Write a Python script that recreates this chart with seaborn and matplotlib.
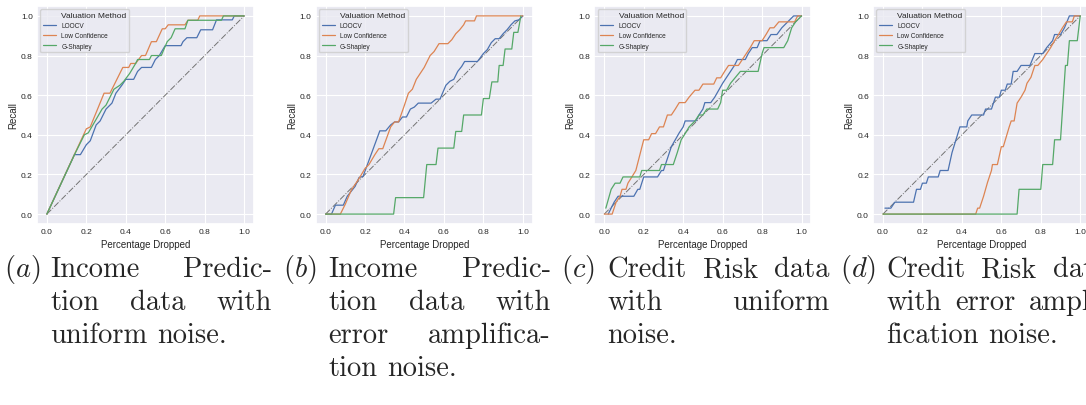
import matplotlib
matplotlib.use("Agg")
import numpy as np
import pandas as pd
import seaborn as sns
import matplotlib.pyplot as plt
from matplotlib.lines import Line2D

# ---------------- data ----------------
METHODS = ["LOOCV", "Low Confidence", "G-Shapley"]
LEGEND_TITLE = "Valuation Method"
X_LABEL = "Percentage Dropped"
Y_LABEL = "Recall"
TICKS = [0.0, 0.2, 0.4, 0.6, 0.8, 1.0]
TICK_LABELS = ["0.0", "0.2", "0.4", "0.6", "0.8", "1.0"]
DIAG_X = [0.0, 1.0]
DIAG_Y = [0.0, 1.0]

# (a) Income prediction, uniform noise
a_loocv_x = [0, 0.14, 0.17, 0.2, 0.22, 0.25, 0.27, 0.3, 0.33, 0.35, 0.38, 0.4, 0.44, 0.46, 0.48, 0.53, 0.55, 0.57,
             0.6, 0.68, 0.69, 0.71, 0.76, 0.78, 0.84, 0.86, 0.94, 0.95, 1.0]
a_loocv_y = [0, 0.30, 0.30, 0.35, 0.37, 0.45, 0.47, 0.53, 0.56, 0.61, 0.65, 0.68, 0.68, 0.72, 0.74, 0.74, 0.78, 0.80,
             0.85, 0.85, 0.87, 0.89, 0.89, 0.93, 0.93, 0.98, 0.98, 1.0, 1.0]
a_lowconf_x = [0, 0.13, 0.2, 0.22, 0.29, 0.32, 0.385, 0.415, 0.425, 0.45, 0.48, 0.5, 0.53, 0.555, 0.585, 0.60, 0.615,
               0.70, 0.715, 0.765, 0.775, 1.0]
a_lowconf_y = [0, 0.28, 0.43, 0.44, 0.61, 0.61, 0.74, 0.74, 0.76, 0.76, 0.80, 0.80, 0.87, 0.87, 0.935, 0.935, 0.955,
               0.955, 0.978, 0.978, 1.0, 1.0]
a_gshap_x = [0, 0.14, 0.19, 0.21, 0.28, 0.30, 0.34, 0.37, 0.39, 0.42, 0.45, 0.46, 0.52, 0.53, 0.58, 0.61, 0.63, 0.65,
             0.70, 0.715, 0.885, 0.895, 1.0]
a_gshap_y = [0, 0.30, 0.40, 0.41, 0.53, 0.55, 0.63, 0.65, 0.67, 0.71, 0.76, 0.78, 0.78, 0.80, 0.80, 0.87, 0.89, 0.935,
             0.935, 0.978, 0.978, 1.0, 1.0]

# (b) Income prediction, error amplification noise
b_loocv_x = [0, 0.03, 0.05, 0.09, 0.11, 0.15, 0.17, 0.19, 0.275, 0.305, 0.33, 0.35, 0.37, 0.39, 0.41, 0.43, 0.45, 0.47,
             0.535, 0.56, 0.58, 0.61, 0.63, 0.65, 0.67, 0.69, 0.705, 0.77, 0.80, 0.82, 0.84, 0.86, 0.88, 0.90, 0.92,
             0.94, 0.96, 0.98, 1.0]
b_loocv_y = [0, 0, 0.045, 0.045, 0.09, 0.14, 0.185, 0.19, 0.42, 0.42, 0.45, 0.465, 0.465, 0.49, 0.49, 0.53, 0.54, 0.56,
             0.56, 0.58, 0.58, 0.65, 0.67, 0.68, 0.72, 0.745, 0.77, 0.77, 0.81, 0.83, 0.865, 0.885, 0.885, 0.91, 0.93,
             0.955, 0.975, 0.98, 1.0]
b_lowconf_x = [0, 0.075, 0.10, 0.13, 0.17, 0.20, 0.22, 0.25, 0.27, 0.29, 0.33, 0.35, 0.37, 0.40, 0.42, 0.44, 0.46,
               0.50, 0.53, 0.55, 0.575, 0.62, 0.64, 0.66, 0.68, 0.70, 0.71, 0.755, 0.765, 1.0]
b_lowconf_y = [0, 0, 0.05, 0.12, 0.18, 0.23, 0.25, 0.30, 0.33, 0.33, 0.44, 0.465, 0.465, 0.55, 0.61, 0.63, 0.68,
               0.74, 0.80, 0.82, 0.86, 0.86, 0.88, 0.91, 0.93, 0.955, 0.975, 0.975, 1.0, 1.0]
b_gshap_x = [0, 0.345, 0.355, 0.497, 0.513, 0.56, 0.57, 0.65, 0.66, 0.69, 0.70, 0.79, 0.80, 0.83, 0.843, 0.873, 0.88,
             0.90, 0.91, 0.944, 0.954, 0.975, 0.99]
b_gshap_y = [0, 0, 0.083, 0.083, 0.25, 0.25, 0.333, 0.333, 0.417, 0.417, 0.5, 0.5, 0.583, 0.583, 0.667, 0.667, 0.75,
             0.75, 0.833, 0.833, 0.917, 0.917, 1.0]

# (c) Credit risk, uniform noise
c_loocv_x = [0.02, 0.035, 0.05, 0.07, 0.15, 0.17, 0.18, 0.20, 0.27, 0.29, 0.30, 0.32, 0.34, 0.36, 0.38, 0.40, 0.41,
             0.465, 0.48, 0.50, 0.51, 0.54, 0.56, 0.58, 0.60, 0.62, 0.64, 0.66, 0.675, 0.715, 0.73, 0.75, 0.775, 0.79,
             0.825, 0.845, 0.875, 0.90, 0.93, 0.96, 1.0]
c_loocv_y = [0, 0.03, 0.06, 0.09, 0.09, 0.125, 0.125, 0.1875, 0.1875, 0.22, 0.22, 0.28, 0.34, 0.375, 0.41, 0.44, 0.47,
             0.47, 0.5, 0.53, 0.5625, 0.5625, 0.59, 0.625, 0.66, 0.69, 0.72, 0.75, 0.78, 0.78, 0.81, 0.84, 0.84, 0.875,
             0.875, 0.906, 0.906, 0.94, 0.97, 1.0, 1.0]
c_lowconf_x = [0.0, 0.04, 0.06, 0.08, 0.09, 0.11, 0.12, 0.14, 0.16, 0.20, 0.225, 0.24, 0.26, 0.28, 0.30, 0.32, 0.34,
               0.36, 0.38, 0.41, 0.43, 0.46, 0.48, 0.50, 0.555, 0.57, 0.59, 0.61, 0.63, 0.68, 0.70, 0.72, 0.74, 0.76,
               0.80, 0.82, 0.84, 0.86, 0.885, 0.965, 0.98, 1.0]
c_lowconf_y = [0, 0, 0.06, 0.09, 0.125, 0.125, 0.156, 0.1875, 0.22, 0.375, 0.375, 0.406, 0.406, 0.44, 0.44, 0.5, 0.5,
               0.53, 0.5625, 0.5625, 0.59, 0.625, 0.625, 0.656, 0.656, 0.6875, 0.6875, 0.72, 0.75, 0.75, 0.78, 0.81,
               0.84, 0.875, 0.875, 0.906, 0.94, 0.94, 0.97, 0.97, 1.0, 1.0]
c_gshap_x = [0.008, 0.035, 0.055, 0.08, 0.095, 0.18, 0.19, 0.28, 0.29, 0.35, 0.37, 0.39, 0.41, 0.43, 0.46, 0.48, 0.50,
             0.52, 0.575, 0.59, 0.60, 0.62, 0.64, 0.665, 0.69, 0.78, 0.80, 0.81, 0.91, 0.93, 0.95, 0.97, 1.0]
c_gshap_y = [0.03, 0.125, 0.156, 0.156, 0.1875, 0.1875, 0.22, 0.22, 0.25, 0.25, 0.31, 0.375, 0.406, 0.44, 0.47, 0.5,
             0.5, 0.53, 0.53, 0.5625, 0.625, 0.625, 0.66, 0.69, 0.72, 0.72, 0.81, 0.84, 0.84, 0.875, 0.94, 0.97, 1.0]

# (d) Credit risk, error amplification noise
d_loocv_x = [0.01, 0.04, 0.06, 0.155, 0.17, 0.19, 0.20, 0.22, 0.23, 0.28, 0.29, 0.33, 0.35, 0.37, 0.39, 0.425, 0.43,
             0.45, 0.51, 0.52, 0.55, 0.57, 0.59, 0.60, 0.62, 0.63, 0.65, 0.66, 0.68, 0.70, 0.745, 0.77, 0.81, 0.83,
             0.86, 0.87, 0.90, 0.92, 0.945, 1.0]
d_loocv_y = [0.03, 0.03, 0.06, 0.06, 0.125, 0.125, 0.156, 0.156, 0.1875, 0.1875, 0.22, 0.22, 0.31, 0.375, 0.44, 0.44,
             0.47, 0.5, 0.5, 0.53, 0.53, 0.59, 0.59, 0.625, 0.625, 0.656, 0.656, 0.72, 0.72, 0.75, 0.75, 0.81, 0.81,
             0.84, 0.875, 0.906, 0.906, 0.94, 1.0, 1.0]
d_lowconf_x = [0, 0.47, 0.48, 0.49, 0.51, 0.53, 0.55, 0.555, 0.58, 0.60, 0.61, 0.64, 0.65, 0.665, 0.68, 0.70, 0.72,
               0.73, 0.75, 0.77, 0.785, 0.81, 0.83, 0.85, 0.87, 0.89, 0.91, 0.93, 0.96, 0.97, 1.0]
d_lowconf_y = [0, 0, 0.03, 0.03, 0.09, 0.16, 0.22, 0.25, 0.25, 0.34, 0.34, 0.44, 0.47, 0.47, 0.56, 0.59, 0.625, 0.66,
               0.69, 0.75, 0.75, 0.78, 0.81, 0.84, 0.875, 0.906, 0.94, 0.97, 0.97, 1.0, 1.0]
d_gshap_x = [0, 0.68, 0.69, 0.80, 0.81, 0.86, 0.87, 0.90, 0.925, 0.935, 0.945, 0.985, 1.0]
d_gshap_y = [0, 0, 0.125, 0.125, 0.25, 0.25, 0.375, 0.375, 0.75, 0.75, 0.875, 0.875, 1.0]

CAPTION_LABELS = ["(a)", "(b)", "(c)", "(d)"]
CAPTION_LINES = [
    ["Income Predic-", "tion data with", "uniform noise."],
    ["Income Predic-", "tion data with", "error amplifica-", "tion noise."],
    ["Credit Risk data", "with uniform", "noise."],
    ["Credit Risk data", "with error ampli-", "fication noise."],
]

PANELS = [
    [(a_loocv_x, a_loocv_y), (a_lowconf_x, a_lowconf_y), (a_gshap_x, a_gshap_y)],
    [(b_loocv_x, b_loocv_y), (b_lowconf_x, b_lowconf_y), (b_gshap_x, b_gshap_y)],
    [(c_loocv_x, c_loocv_y), (c_lowconf_x, c_lowconf_y), (c_gshap_x, c_gshap_y)],
    [(d_loocv_x, d_loocv_y), (d_lowconf_x, d_lowconf_y), (d_gshap_x, d_gshap_y)],
]

# ---------------- style ----------------
sns.set_theme(style="darkgrid", palette="deep")
plt.rcParams["font.family"] = ["Liberation Sans", "DejaVu Sans"]
plt.rcParams["mathtext.fontset"] = "cm"
plt.rcParams["grid.linewidth"] = 0.8
PALETTE = dict(zip(METHODS, sns.color_palette("deep", 3)))

W, H = 1086, 406
DPI = 100
fig = plt.figure(figsize=(W / DPI, H / DPI), dpi=DPI)

PANEL_STEP = 278.7
AX_LEFT0, AX_TOP, AX_W, AX_H = 37, 7, 217, 218

for i, series in enumerate(PANELS):
    left = AX_LEFT0 + i * PANEL_STEP
    ax = fig.add_axes([left / W, 1 - (AX_TOP + AX_H) / H, AX_W / W, AX_H / H])
    frames = []
    for name, (xs, ys) in zip(METHODS, series):
        frames.append(pd.DataFrame({"x": xs, "y": ys, "method": name}))
    df = pd.concat(frames, ignore_index=True)
    ax.plot(DIAG_X, DIAG_Y, ls="-.", color="0.45", lw=0.7)
    sns.lineplot(data=df, x="x", y="y", hue="method", hue_order=METHODS, palette=PALETTE,
                 estimator=None, sort=False, lw=0.9, ax=ax)
    ax.set_xlim(-0.05, 1.05)
    ax.set_ylim(-0.05, 1.05)
    ax.set_xticks(TICKS)
    ax.set_xticklabels(TICK_LABELS)
    ax.set_yticks(TICKS)
    ax.set_yticklabels(TICK_LABELS)
    ax.tick_params(labelsize=6, length=0, pad=3, colors="0.15")
    ax.set_xlabel(X_LABEL, fontsize=7, labelpad=2.5, color="0.15")
    ax.set_ylabel(Y_LABEL, fontsize=7, labelpad=2, color="0.15")

    handles, labels = ax.get_legend_handles_labels()
    if ax.get_legend() is not None:
        ax.get_legend().remove()
    for h in handles:
        h.set_linewidth(0.9)
    blank = Line2D([], [], color="none")
    leg = ax.legend([blank] + handles, [LEGEND_TITLE] + labels, loc="upper left", fontsize=4.7,
                    handlelength=2.0, borderaxespad=0.5, labelspacing=0.5)
    leg.get_texts()[0].set_fontsize(6)

# ---------------- captions ----------------
CAP_FS = 20.5
LINE_DY = 33
BASE_Y = 277
renderer = fig.canvas.get_renderer()
space_px = 0.333 * CAP_FS * DPI / 72

for i, (lab, lines) in enumerate(zip(CAPTION_LABELS, CAPTION_LINES)):
    base = i * PANEL_STEP
    x_label = base + 4
    x_left = base + 50
    x_right = base + 272
    fig.text(x_label / W, 1 - BASE_Y / H, "$" + lab + "$", fontsize=CAP_FS, va="baseline", ha="left")
    for j, line in enumerate(lines):
        words = line.split()
        y = 1 - (BASE_Y + j * LINE_DY) / H
        texts = [fig.text(0, y, w, fontsize=CAP_FS, family="cmr10", va="baseline", ha="left") for w in words]
        widths = [t.get_window_extent(renderer).width for t in texts]
        if j < len(lines) - 1 and len(words) > 1:
            gap = (x_right - x_left - sum(widths)) / (len(words) - 1)
        else:
            gap = space_px
        x = x_left
        for t, w in zip(texts, widths):
            t.set_x(x / W)
            x += w + gap

fig.savefig("out.png", dpi=DPI)
